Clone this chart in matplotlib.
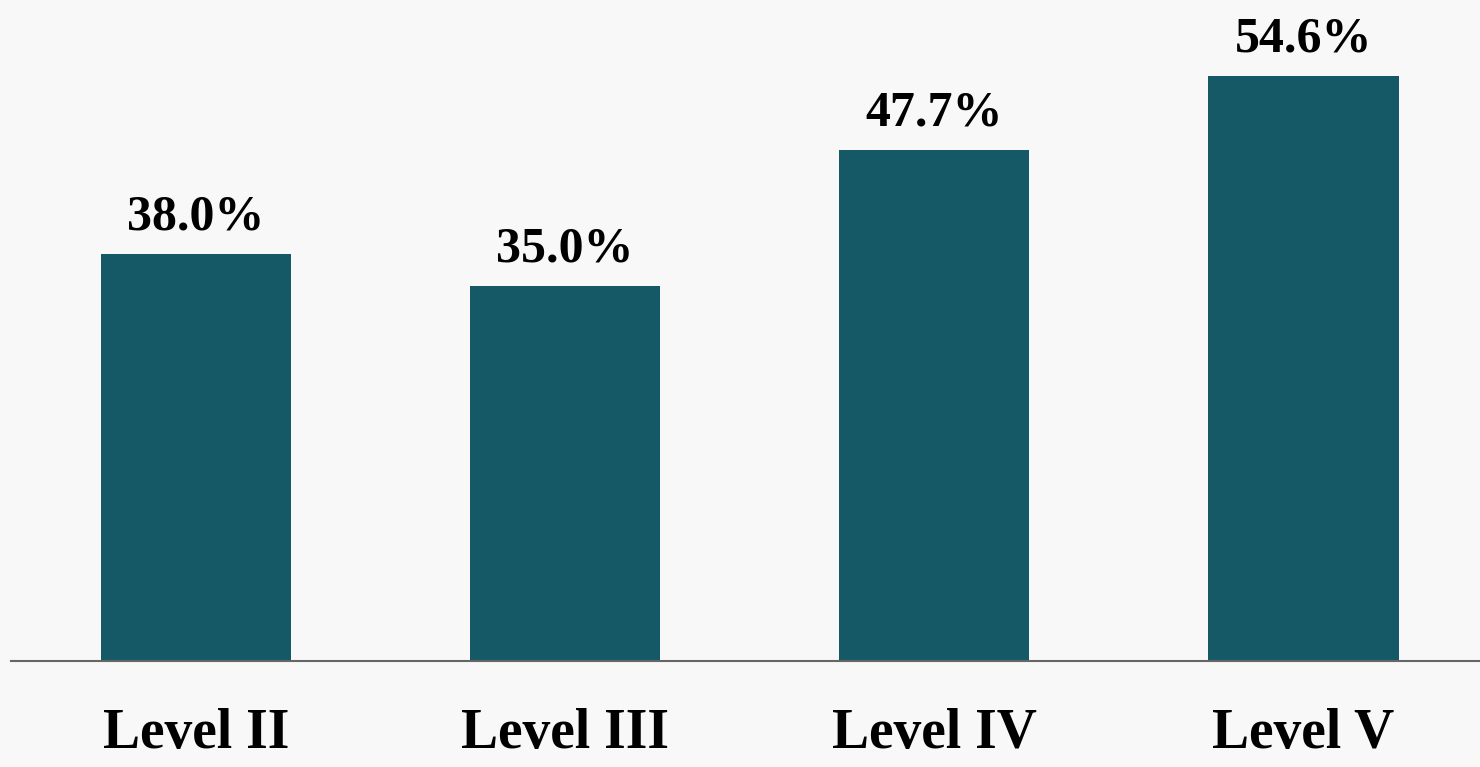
import matplotlib.pyplot as plt

categories = ["Level II", "Level III", "Level IV", "Level V"]
values = [38.0, 35.0, 47.7, 54.6]
value_labels = ["38.0%", "35.0%", "47.7%", "54.6%"]

bar_color = "#145965"
bg_color = "#f8f8f8"

fig = plt.figure(figsize=(14.8, 7.67), dpi=100, facecolor=bg_color)
ax = fig.add_axes([11 / 1480, 1 - 661 / 767, 1 - 11 / 1480, 661 / 767])
ax.set_facecolor("none")

x = range(len(categories))
bars = ax.bar(x, values, width=0.515, color=bar_color)

for b, lab in zip(bars, value_labels):
    ax.annotate(lab, (b.get_x() + b.get_width() / 2, b.get_height()),
                xytext=(0, 10), textcoords="offset points",
                ha="center", va="bottom", fontsize=36, fontweight="bold",
                family="Liberation Serif", color="black")

ax.set_xlim(-0.501, 3.478)
ax.set_ylim(0, 61.7)
ax.set_xticks(list(x))
ax.set_xticklabels(categories, fontsize=40, fontweight="bold", family="Liberation Serif")
ax.tick_params(axis="x", length=0, pad=34)
ax.set_yticks([])
for s in ["top", "right", "left"]:
    ax.spines[s].set_visible(False)
ax.spines["bottom"].set_color("#666666")
ax.spines["bottom"].set_linewidth(1.5)

fig.savefig("out.png", dpi=100, facecolor=bg_color)
